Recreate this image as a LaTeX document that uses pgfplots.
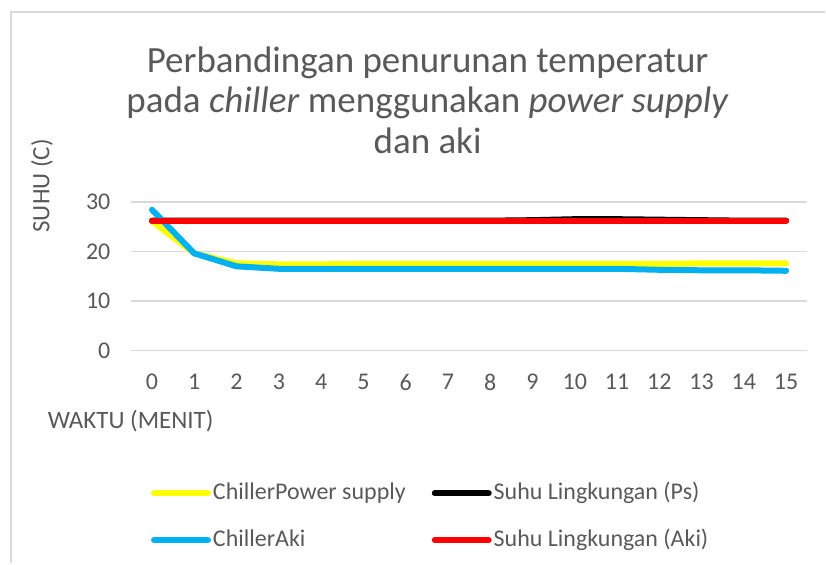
\documentclass[border=0pt]{standalone}
\usepackage{pgfplots}
\pgfplotsset{compat=1.18}
\usepackage{fontspec}
\setmainfont{Carlito}
\definecolor{txt}{HTML}{595959}
\definecolor{gridc}{HTML}{D9D9D9}
\definecolor{cyel}{HTML}{FFFF00}
\definecolor{cblu}{HTML}{00B0F0}
\definecolor{cred}{HTML}{FF0000}
\begin{document}
\begin{tikzpicture}[x=1pt,y=1pt]
% page frame (1px = 1pt)
\path (0,0) rectangle (826,564);
\draw[gridc, line width=1.5pt] (11,0) -- (11,552) -- (826,552);
% title
\node[txt, align=center, font=\fontsize{37}{40.5}\selectfont] at (428,464)
  {Perbandingan penurunan temperatur\\pada \textit{chiller} menggunakan \textit{power supply}\\dan aki};
\begin{axis}[
    at={(131pt,213pt)}, anchor=south west,
    scale only axis, width=677pt, height=149pt,
    xmin=-0.5, xmax=15.5, ymin=0, ymax=30,
    xtick={0,...,15}, ytick={0,10,20,30},
    axis line style={draw=none}, tick style={draw=none},
    ymajorgrids, grid style={gridc, line width=1.5pt},
    ticklabel style={txt, font=\fontsize{24}{28}\selectfont},
    /pgf/number format/assume math mode=true,
    xticklabel style={yshift=-20pt},
    yticklabel style={xshift=-17pt},
    xlabel={WAKTU (MENIT)}, ylabel={SUHU (C)},
    label style={txt, font=\fontsize{25}{28}\selectfont},
    xlabel style={at={(rel axis cs:-0.128,-0.47)}, anchor=west},
    ylabel style={at={(rel axis cs:-0.1315,1.107)}, anchor=center},
    legend columns=2,
    legend style={draw=none, fill=none, at={(rel axis cs:0.0295,-0.87)}, anchor=north west,
      font=\fontsize{24}{28}\selectfont, text=txt, inner sep=0pt, row sep=21pt,
      nodes={inner sep=2pt, text height=17pt, text depth=5pt},
      /tikz/every even column/.append style={column sep=24pt}},
    legend cell align=left,
    legend image code/.code={\draw[#1, line cap=round] (0pt,0pt) -- (54pt,0pt);},
    every axis plot/.append style={line width=6pt, line join=round, line cap=round},
]
\addplot[cyel] coordinates {
 (0,26.1) (1,19.6) (2,17.6) (3,17.4) (4,17.4) (5,17.5) (6,17.5) (7,17.5)
 (8,17.5) (9,17.5) (10,17.5) (11,17.5) (12,17.5) (13,17.6) (14,17.6) (15,17.6)};
\addlegendentry{ChillerPower supply}
\addplot[black] coordinates {
 (0,26.2) (1,26.2) (2,26.2) (3,26.2) (4,26.2) (5,26.2) (6,26.2) (7,26.2)
 (8,26.2) (9,26.3) (10,26.5) (11,26.5) (12,26.4) (13,26.3) (14,26.2) (15,26.2)};
\addlegendentry{Suhu Lingkungan (Ps)}
\addplot[cblu] coordinates {
 (0,28.4) (1,19.6) (2,17.0) (3,16.5) (4,16.5) (5,16.5) (6,16.5) (7,16.5)
 (8,16.5) (9,16.5) (10,16.5) (11,16.5) (12,16.3) (13,16.2) (14,16.2) (15,16.1)};
\addlegendentry{ChillerAki}
\addplot[cred] coordinates {
 (0,26.2) (1,26.2) (2,26.2) (3,26.2) (4,26.2) (5,26.2) (6,26.2) (7,26.2)
 (8,26.2) (9,26.2) (10,26.2) (11,26.2) (12,26.2) (13,26.2) (14,26.2) (15,26.2)};
\addlegendentry{Suhu Lingkungan (Aki)}
\end{axis}
\end{tikzpicture}
\end{document}
